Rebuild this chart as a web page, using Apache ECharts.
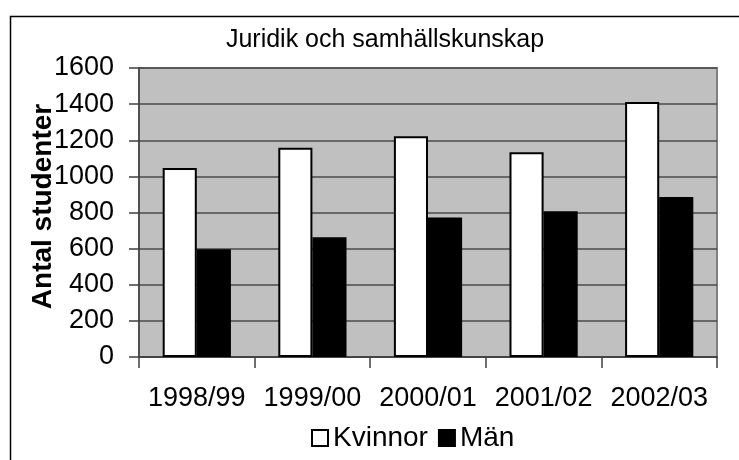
<!DOCTYPE html>
<html>
<head>
<meta charset="utf-8">
<script src="https://cdn.jsdelivr.net/npm/echarts@6/dist/echarts.min.js"></script>
<style>
html,body{margin:0;padding:0;background:#fff;}
#chart{width:739px;height:460px;}
</style>
</head>
<body>
<div id="chart"></div>
<script>
const categories = ['1998/99', '1999/00', '2000/01', '2001/02', '2002/03'];
const kvinnor = [1047, 1158, 1222, 1134, 1412];
const man = [597, 663, 773, 807, 886];
const yTicks = [0, 200, 400, 600, 800, 1000, 1200, 1400, 1600];
const titleText = 'Juridik och samhällskunskap';
const yName = 'Antal studenter';
const seriesNames = ['Kvinnor', 'Män'];

const FONT = "'Liberation Sans', Arial, sans-serif";
const chart = echarts.init(document.getElementById('chart'), null, {renderer: 'canvas'});
chart.setOption({
  animation: false,
  backgroundColor: '#ffffff',
  graphic: [{
    type: 'rect', left: 8, top: 14, z: -10,
    shape: {width: 760, height: 480},
    style: {fill: 'none', stroke: '#000', lineWidth: 1.5}
  }],
  title: {
    text: titleText, left: 380, top: 23, textAlign: 'center',
    textStyle: {fontFamily: FONT, fontSize: 25, fontWeight: 'normal', color: '#000'}
  },
  legend: {
    data: seriesNames, left: 306, top: 419,
    itemWidth: 16, itemHeight: 16, itemGap: 10,
    icon: 'rect',
    textStyle: {fontFamily: FONT, fontSize: 28, color: '#000', padding: [0, 0, 0, 0]}
  },
  grid: {
    left: 139, right: 22, top: 68, bottom: 103,
    show: true, backgroundColor: '#c0c0c0', borderColor: '#808080', borderWidth: 2
  },
  xAxis: {
    type: 'category', data: categories,
    axisLine: {show: true, lineStyle: {color: '#404040', width: 1.5}},
    axisTick: {show: true, length: 11, lineStyle: {color: '#404040', width: 1.5}},
    axisLabel: {fontFamily: FONT, fontSize: 27, color: '#000', margin: 28, interval: 0}
  },
  yAxis: {
    type: 'value', min: yTicks[0], max: yTicks[yTicks.length - 1], interval: 200,
    name: yName, nameLocation: 'middle', nameGap: 82, nameMoveOverlap: false,
    nameTextStyle: {fontFamily: FONT, fontSize: 28, fontWeight: 'bold', color: '#000', padding: [0, 0, 0, 12]},
    axisLine: {show: true, lineStyle: {color: '#404040', width: 1.5}},
    axisTick: {show: true, length: 10, lineStyle: {color: '#404040', width: 1.5}},
    splitLine: {show: true, lineStyle: {color: '#4a4a4a', width: 1.5}},
    axisLabel: {fontFamily: FONT, fontSize: 27, color: '#000', margin: 25, formatter: v => String(v)}
  },
  series: [{
    name: seriesNames[0], type: 'bar', data: kvinnor,
    barGap: '0%', barCategoryGap: '41%',
    itemStyle: {color: '#ffffff', borderColor: '#000', borderWidth: 2}
  }, {
    name: seriesNames[1], type: 'bar', data: man,
    itemStyle: {color: '#000000', borderColor: '#000', borderWidth: 1.5}
  }]
});
</script>
</body>
</html>
